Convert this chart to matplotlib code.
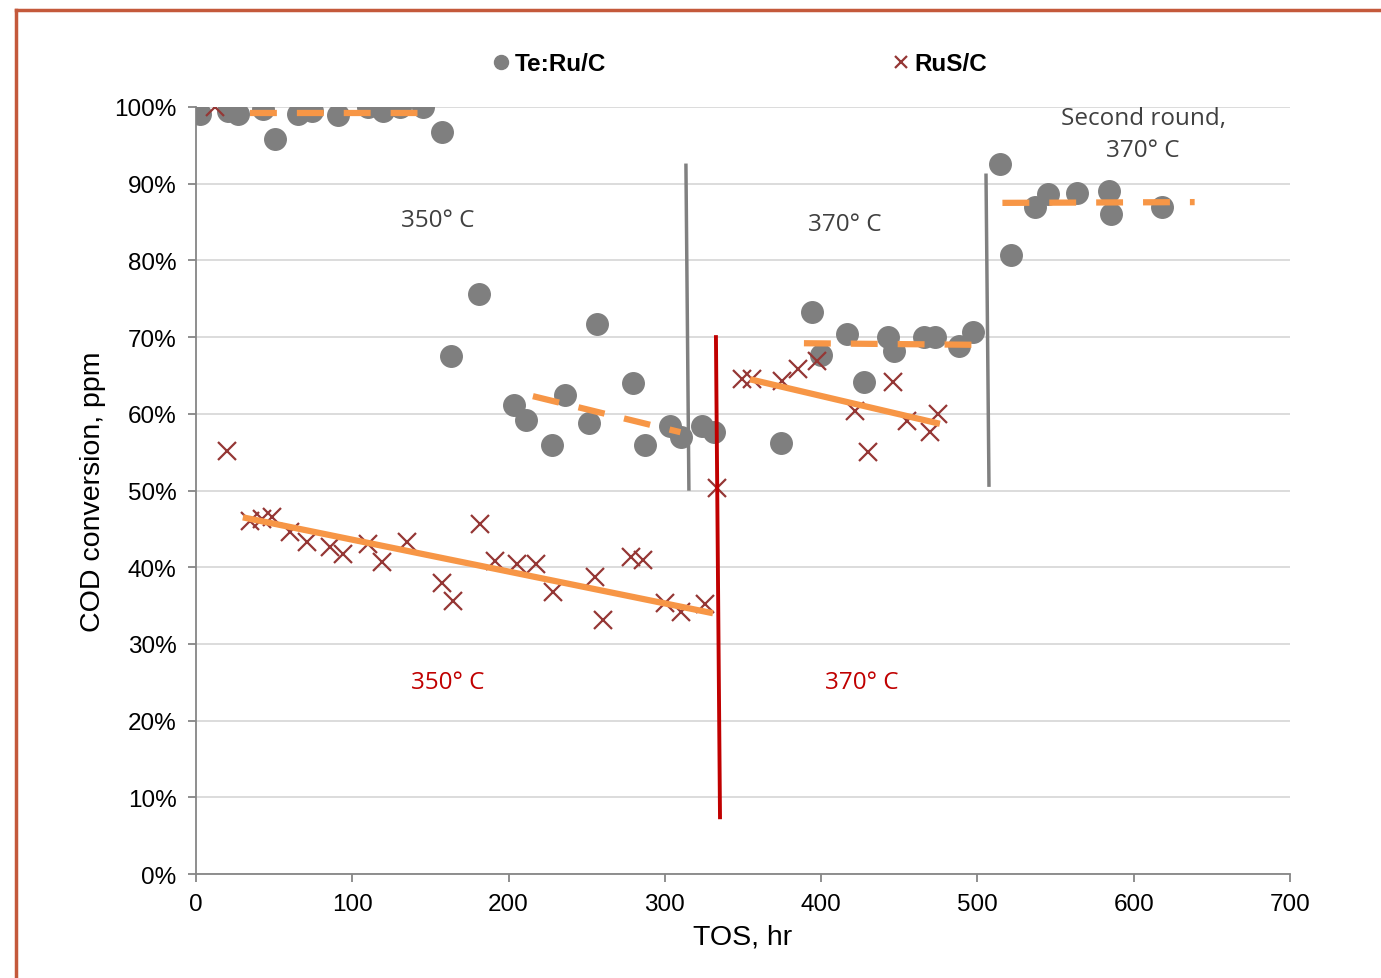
import numpy as np
import matplotlib.pyplot as plt
from matplotlib.lines import Line2D
from matplotlib.ticker import PercentFormatter

# Te:Ru/C conversion (%)
te_tos = [2.6, 20.5, 26.9, 42.9, 50.5, 65.3, 74.2, 90.9, 110, 119.6, 130.5, 145.2, 157.4,
          163.2, 181.1, 203.5, 211.1, 227.8, 236.1, 251.5, 256.6, 279.6, 287.3, 303.3, 310.3,
          323.8, 331.4, 374.3, 394.1, 399.9, 416.5, 427.4, 442.8, 446.6, 465.8, 472.8, 488.2,
          497.2, 514.4, 521.5, 536.8, 545.1, 563.7, 584.2, 585.4, 618.1]
te_conv = [99.1, 99.5, 99.1, 99.7, 95.8, 99.1, 99.5, 98.9, 100, 99.5, 100, 100, 96.7,
           67.5, 75.6, 61.1, 59.2, 55.9, 62.5, 58.8, 71.7, 64.0, 55.9, 58.4, 57.0,
           58.4, 57.6, 56.2, 73.3, 67.7, 70.4, 64.1, 70.0, 68.2, 70.0, 70.0, 68.8,
           70.7, 92.6, 80.7, 87.0, 88.7, 88.8, 89.0, 86.0, 87.0]

# RuS/C conversion (%)
rus_tos = [12.2, 19.8, 34.6, 42.2, 48.6, 60.1, 71.0, 85.7, 94.1, 110.1, 119.0, 135.0, 157.4,
           164.4, 181.7, 191.3, 205.4, 217.5, 228.4, 255.3, 260.4, 278.3, 286.0, 300.1, 310.3,
           325.7, 333.4, 349.3, 355.7, 374.9, 385.2, 397.3, 421.6, 430.0, 446.0, 455.0, 469.7,
           474.8]
rus_conv = [100, 55.1, 46.0, 46.3, 46.5, 44.6, 43.3, 42.6, 41.7, 43.0, 40.7, 43.3, 38.0,
            35.6, 45.6, 40.8, 40.4, 40.4, 36.8, 38.7, 33.1, 41.3, 40.9, 35.3, 34.2,
            35.2, 50.3, 64.5, 64.5, 64.3, 65.8, 66.9, 60.4, 55.0, 64.1, 59.1, 57.6,
            60.0]

# trend lines (start/end points)
te_trends = [([34.5, 143.3], [99.2, 99.2]),
             ([215.6, 310.0], [62.3, 57.6]),
             ([389.0, 497.0], [69.2, 69.0]),
             ([516.0, 639.0], [87.5, 87.6])]
rus_trends = [([30.0, 330.8], [46.5, 34.0]),
              ([354.5, 476.0], [64.5, 58.7])]

# vertical separators
grey_seps = [([313.5, 315.4], [92.4, 50.2]),
             ([505.5, 507.4], [91.1, 50.7])]
red_sep = ([332.7, 335.3], [70.0, 7.4])

grey = '#7f7f7f'
orange = '#f79646'
cross_red = '#953735'

fig = plt.figure(figsize=(13.81, 9.79), dpi=100)
ax = fig.add_axes([0.1419, 0.1062, 0.7922, 0.7835])

ax.plot(te_tos, te_conv, 'o', color=grey, markersize=15.5, label='Te:Ru/C', zorder=3)
ax.plot(rus_tos, rus_conv, 'x', color=cross_red, markersize=13, markeredgewidth=1.6,
        label='RuS/C', zorder=4)

for xs, ys in te_trends:
    ax.plot(xs, ys, color=orange, lw=4.5, dashes=(4.3, 3.2), zorder=5)
for xs, ys in rus_trends:
    ax.plot(xs, ys, color=orange, lw=4.5, solid_capstyle='butt', zorder=5)

for xs, ys in grey_seps:
    ax.plot(xs, ys, color='#808080', lw=2.5, zorder=2)
ax.plot(*red_sep, color='#c00000', lw=2.8, zorder=6)

txt = dict(fontfamily='Open Sans', fontsize=17.5, ha='center', va='center')
ax.text(154.8, 85.3, '350° C', color='#404040', **txt)
ax.text(415.3, 84.7, '370° C', color='#404040', **txt)
ax.text(606, 96.5, 'Second round,\n370° C', color='#404040', linespacing=1.45, **txt)
ax.text(161.2, 25.0, '350° C', color='#c00000', **txt)
ax.text(426, 25.0, '370° C', color='#c00000', **txt)

ax.set_xlim(0, 700)
ax.set_ylim(0, 100)
ax.set_xticks(range(0, 701, 100))
ax.set_yticks(range(0, 101, 10))
ax.yaxis.set_major_formatter(PercentFormatter(decimals=0))
ax.grid(axis='y', color='#d9d9d9', lw=1.3)
ax.set_axisbelow(True)
for s in ['top', 'right']:
    ax.spines[s].set_visible(False)
for s in ['left', 'bottom']:
    ax.spines[s].set_color('#868686')
    ax.spines[s].set_linewidth(1.3)
ax.tick_params(length=6, width=1.3, color='#868686', labelsize=17.5, pad=8)
for lab in ax.get_xticklabels() + ax.get_yticklabels():
    lab.set_fontfamily('Liberation Sans')

ax.set_xlabel('TOS, hr', fontfamily='Liberation Sans', fontsize=20.5, labelpad=6)
ax.set_ylabel('COD conversion, ppm', fontfamily='Liberation Sans', fontsize=20.5, labelpad=6)

leg = fig.legend(loc='center', bbox_to_anchor=(0.535, 0.934), ncol=2, frameon=False,
                 columnspacing=11.7, handletextpad=0.1, handlelength=0.9,
                 prop={'family': 'Liberation Sans', 'weight': 'bold', 'size': 17.5},
                 markerscale=0.65)

# outer frame edges
edge = '#c4593b'
fig.add_artist(Line2D([16 / 1381, 16 / 1381], [0, 1 - 11 / 979], color=edge, lw=2.5,
                      transform=fig.transFigure))
fig.add_artist(Line2D([16 / 1381, 1], [1 - 11 / 979, 1 - 11 / 979], color=edge, lw=2.5,
                      transform=fig.transFigure))

fig.savefig('out.png', dpi=100)
